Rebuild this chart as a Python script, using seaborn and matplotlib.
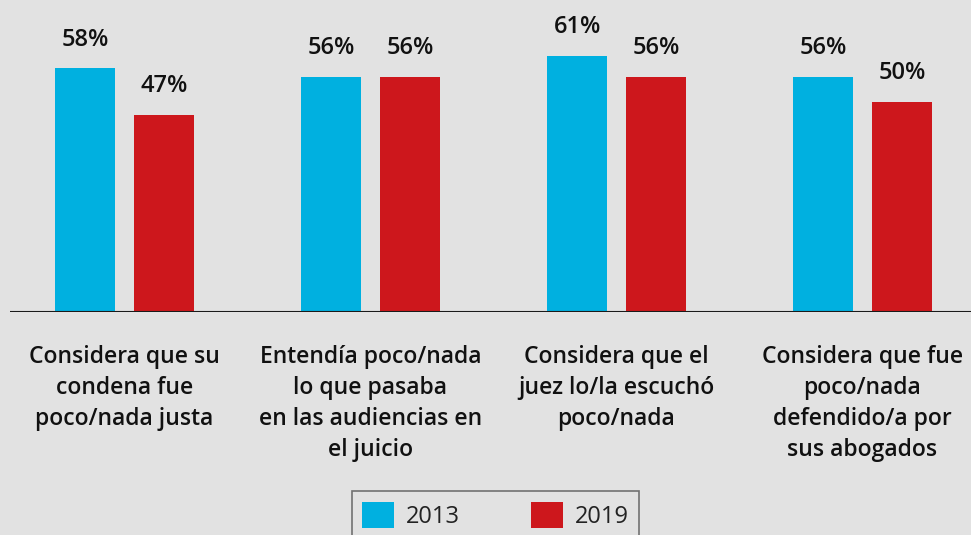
import matplotlib
matplotlib.use("Agg")
import matplotlib.pyplot as plt
import seaborn as sns
import pandas as pd

categories = [
    "Considera que su\ncondena fue\npoco/nada justa",
    "Entendía poco/nada\nlo que pasaba\nen las audiencias en\nel juicio",
    "Considera que el\njuez lo/la escuchó\npoco/nada",
    "Considera que fue\npoco/nada\ndefendido/a por\nsus abogados",
]
years = ["2013", "2019"]
values_2013 = [58, 56, 61, 56]
values_2019 = [47, 56, 56, 50]
colors = ["#00B0E0", "#CD171C"]
bg = "#E2E2E2"

df = pd.DataFrame({
    "cat": categories * 2,
    "year": [years[0]] * 4 + [years[1]] * 4,
    "value": values_2013 + values_2019,
})

sns.set_theme(style="white")
plt.rcParams["font.family"] = ["Open Sans", "DejaVu Sans"]

W, H = 971, 535
fig = plt.figure(figsize=(W / 100, H / 100), dpi=100, facecolor=bg)
ax = fig.add_axes([10 / W, 1 - 312 / H, 1 - 10 / W, 312 / H])
ax.set_facecolor(bg)

sns.barplot(data=df, x="cat", y="value", hue="year", palette=colors,
            width=0.64, gap=0.238, saturation=1, linewidth=0, edgecolor="none",
            ax=ax, legend=False)

ax.set_xlim(-0.4654, 3.4411)
ax.set_ylim(0, 74.3)
ax.axhline(0, color="#1a1a1a", lw=1.5, zorder=5)

for cont in ax.containers:
    ax.bar_label(cont, labels=[f"{v:.0f}%" for v in cont.datavalues],
                 padding=12, fontsize=17, fontweight="semibold", color="#111111")

ax.set_xlabel("")
ax.set_ylabel("")
ax.set_yticks([])
ax.set_xticks(range(len(categories)))
ax.set_xticklabels(categories, fontsize=16.5, fontweight="semibold", linespacing=1.38,
                   color="#111111", multialignment="center")
ax.tick_params(axis="x", length=0, pad=24)
for s in ax.spines.values():
    s.set_visible(False)

from matplotlib.patches import Patch
handles = [Patch(facecolor=c, edgecolor="none") for c in colors]
leg = fig.legend(handles, years, loc="upper center", bbox_to_anchor=(495.5 / W, 1 - 491 / H),
                 ncol=2, fontsize=17, frameon=True, fancybox=False,
                 handlelength=1.35, handleheight=1.35, handletextpad=0.5,
                 columnspacing=3.0, borderpad=0.45, borderaxespad=0)
leg.get_frame().set_edgecolor("#555555")
leg.get_frame().set_facecolor(bg)
leg.get_frame().set_linewidth(1.2)
for t in leg.get_texts():
    t.set_color("#222222")

fig.savefig("out.png", dpi=100, facecolor=bg)
